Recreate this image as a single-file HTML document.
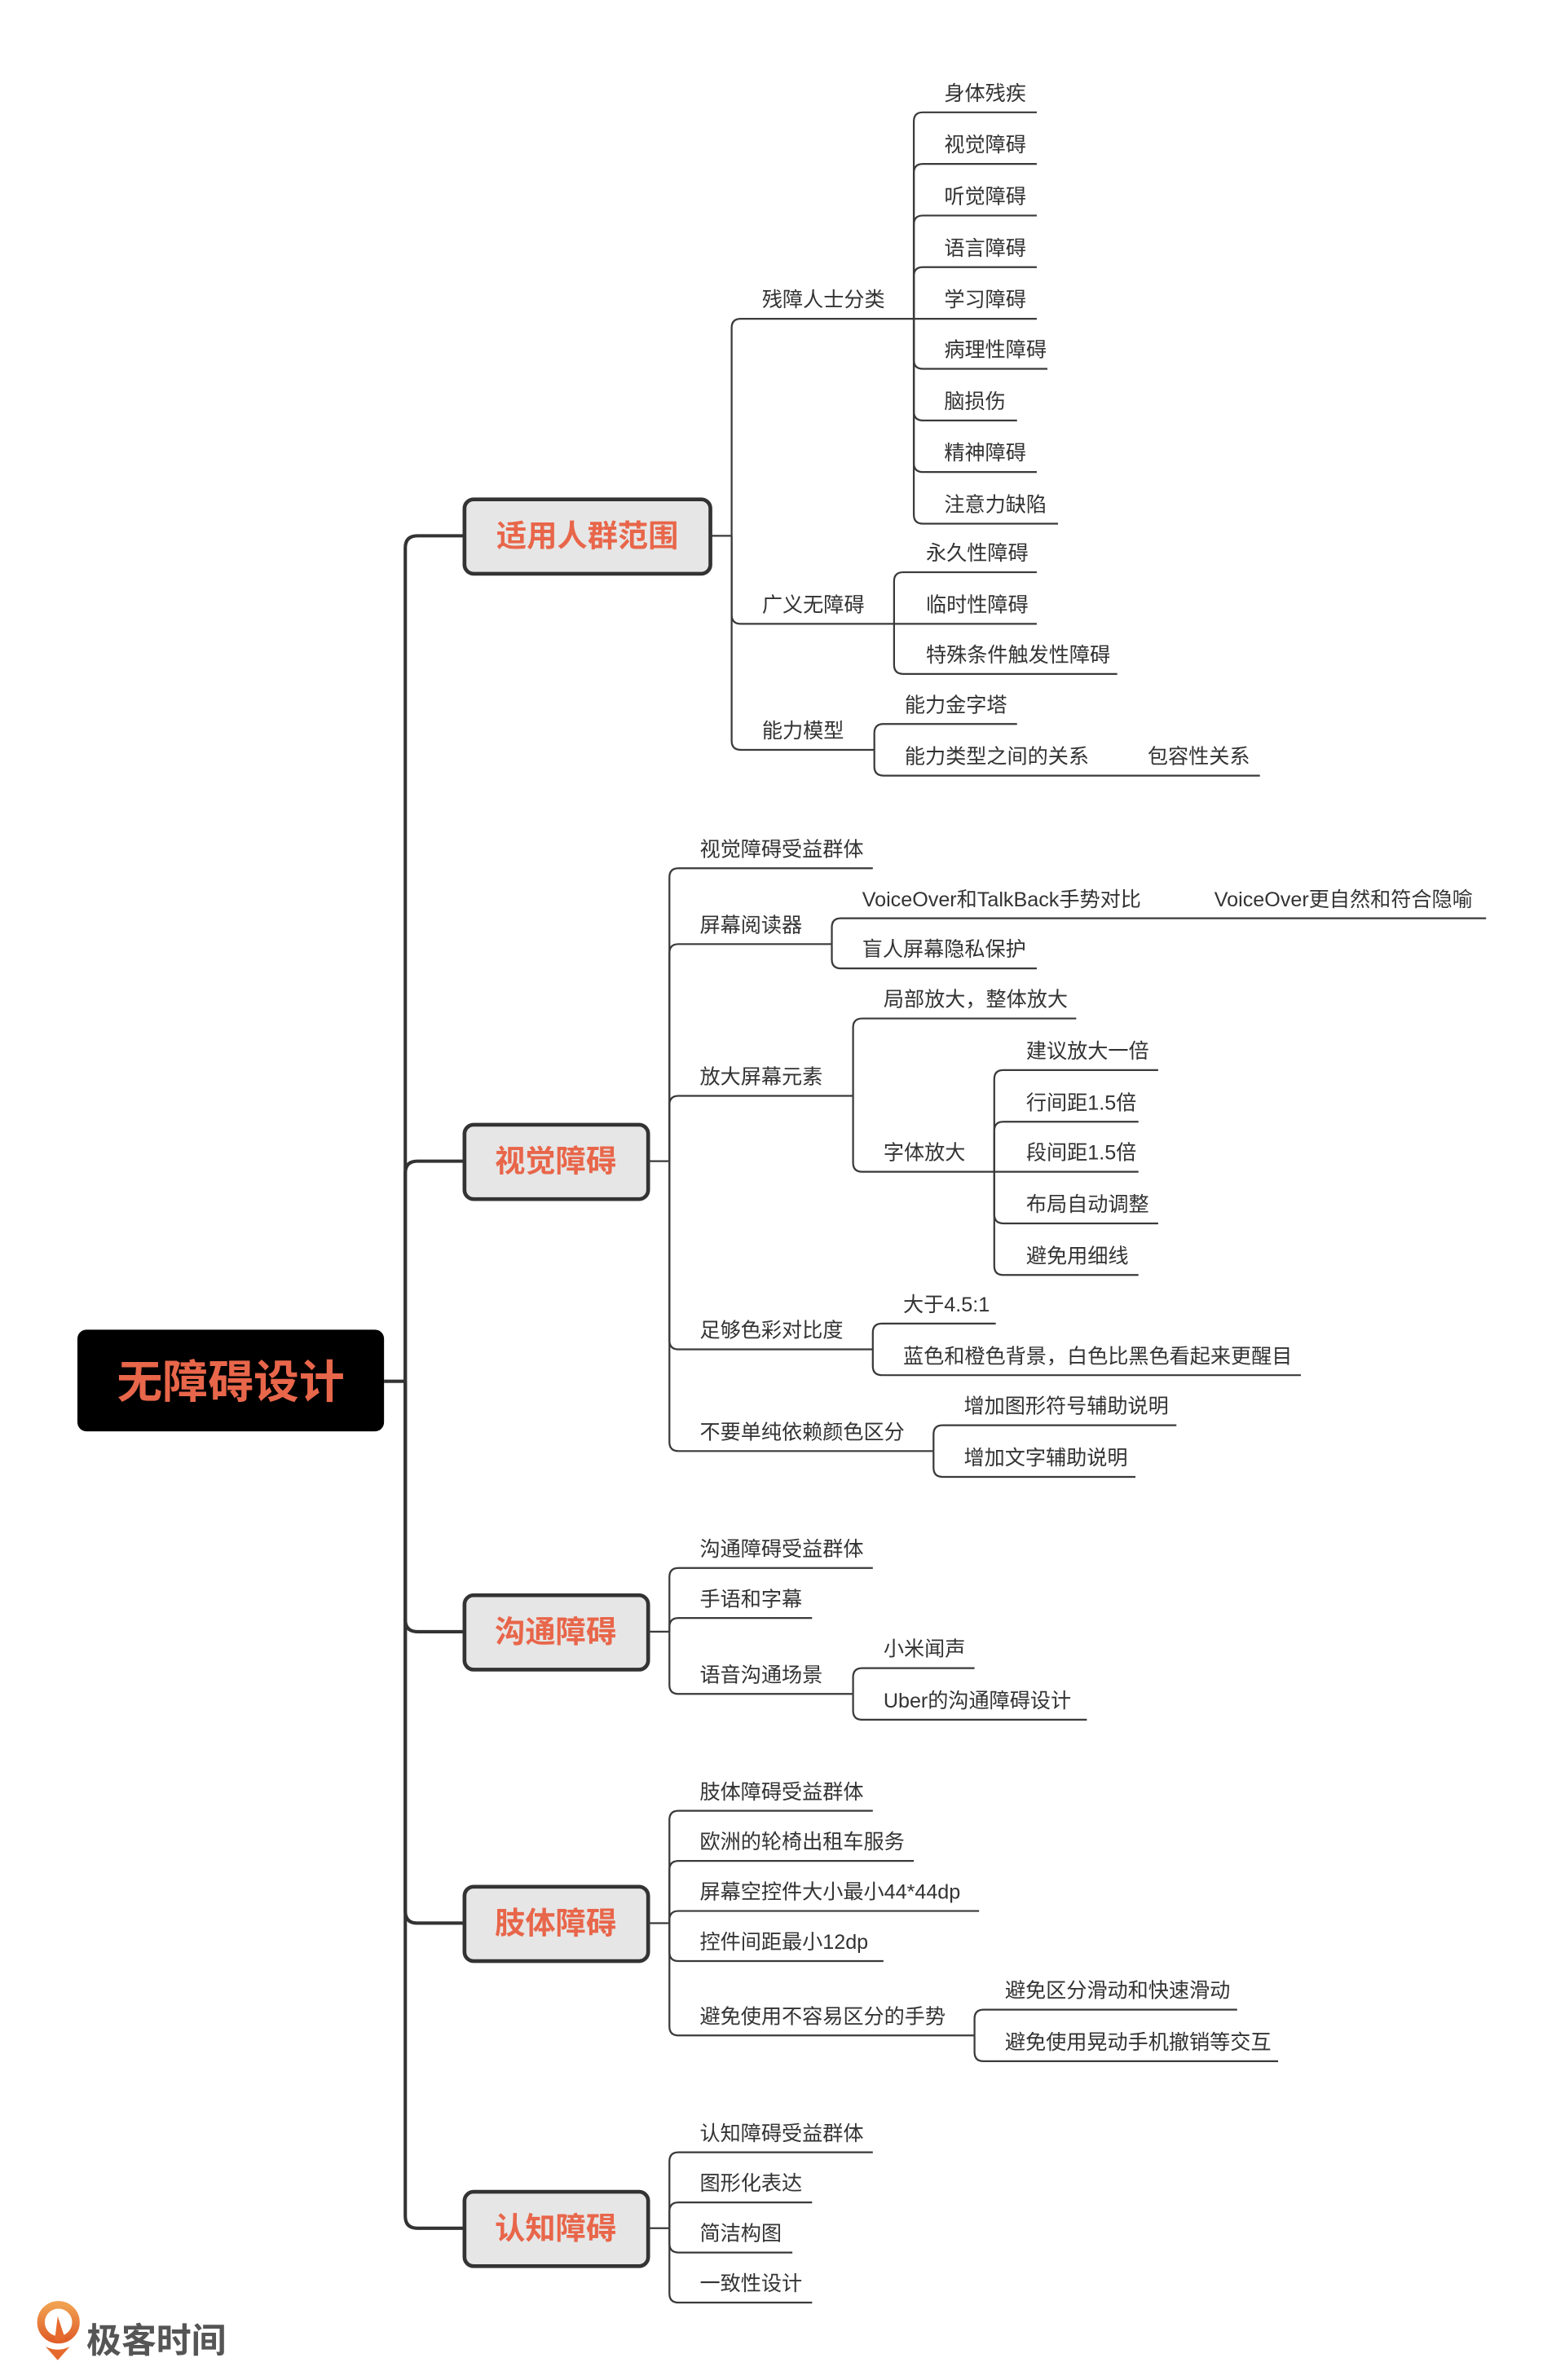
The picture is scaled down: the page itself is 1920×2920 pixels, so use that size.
<!DOCTYPE html>
<html><head><meta charset="utf-8"><style>
html,body{margin:0;padding:0;background:#fff;width:1920px;height:2920px;overflow:hidden}
svg{display:block}
text{font-family:"Liberation Sans","Noto Sans CJK SC",sans-serif}
.t{font-size:13.5px;fill:#333}
.b{font-size:20px;font-weight:bold;fill:#e8664a;font-family:"Noto Sans CJK SC","WenQuanYi Zen Hei",sans-serif}
.l{fill:none;stroke:#3a3a3a;stroke-width:1.2}
.m{fill:none;stroke:#333;stroke-width:2.2}
</style></head><body>
<svg width="1920" height="2920" viewBox="0 0 1031 1568" preserveAspectRatio="none" xmlns="http://www.w3.org/2000/svg">
<!-- trunk -->
<path class="m" d="M253 910 H267"/>
<path class="m" d="M267 910 V361 Q267 353 275 353 H305"/>
<path class="m" d="M267 910 V773 Q267 765 275 765 H305"/>
<path class="m" d="M267 910 V1067 Q267 1075 275 1075 H305"/>
<path class="m" d="M267 910 V1259 Q267 1267 275 1267 H305"/>
<path class="m" d="M267 910 V1460 Q267 1468 275 1468 H305"/>
<!-- root -->
<rect x="51" y="876" width="202" height="67" rx="6" fill="#000"/>
<text x="152" y="921" text-anchor="middle" class="b" style="font-size:30px">无障碍设计</text>
<!-- branch boxes -->
<rect x="306" y="329" width="162" height="49" rx="6" fill="#e6e6e6" stroke="#333" stroke-width="2.5"/>
<text x="387" y="360" text-anchor="middle" class="b">适用人群范围</text>
<rect x="306" y="741" width="121" height="49" rx="6" fill="#e6e6e6" stroke="#333" stroke-width="2.5"/>
<text x="366" y="772" text-anchor="middle" class="b">视觉障碍</text>
<rect x="306" y="1051" width="121" height="49" rx="6" fill="#e6e6e6" stroke="#333" stroke-width="2.5"/>
<text x="366" y="1082" text-anchor="middle" class="b">沟通障碍</text>
<rect x="306" y="1243" width="121" height="49" rx="6" fill="#e6e6e6" stroke="#333" stroke-width="2.5"/>
<text x="366" y="1274" text-anchor="middle" class="b">肢体障碍</text>
<rect x="306" y="1444" width="121" height="49" rx="6" fill="#e6e6e6" stroke="#333" stroke-width="2.5"/>
<text x="366" y="1475" text-anchor="middle" class="b">认知障碍</text>

<!-- Group A -->
<path class="l" d="M468 353 H482"/>
<path class="l" d="M482 353 V216 Q482 210 488 210 H602"/>
<path class="l" d="M482 353 V405 Q482 411 488 411 H589"/>
<path class="l" d="M482 353 V488 Q482 494 488 494 H576"/>
<text class="t" x="502" y="202">残障人士分类</text>
<text class="t" x="502" y="403">广义无障碍</text>
<text class="t" x="502" y="486">能力模型</text>
<path class="l" d="M602 210 V80 Q602 74 608 74 H683"/>
<path class="l" d="M602 210 V114 Q602 108 608 108 H683"/>
<path class="l" d="M602 210 V148 Q602 142 608 142 H683"/>
<path class="l" d="M602 210 V182 Q602 176 608 176 H683"/>
<path class="l" d="M602 210 H683"/>
<path class="l" d="M602 210 V237 Q602 243 608 243 H690"/>
<path class="l" d="M602 210 V271 Q602 277 608 277 H670"/>
<path class="l" d="M602 210 V305 Q602 311 608 311 H683"/>
<path class="l" d="M602 210 V339 Q602 345 608 345 H697"/>
<text class="t" x="622" y="66">身体残疾</text>
<text class="t" x="622" y="100">视觉障碍</text>
<text class="t" x="622" y="134">听觉障碍</text>
<text class="t" x="622" y="168">语言障碍</text>
<text class="t" x="622" y="202">学习障碍</text>
<text class="t" x="622" y="235">病理性障碍</text>
<text class="t" x="622" y="269">脑损伤</text>
<text class="t" x="622" y="303">精神障碍</text>
<text class="t" x="622" y="337">注意力缺陷</text>
<path class="l" d="M589 411 V383 Q589 377 595 377 H683"/>
<path class="l" d="M589 411 H683"/>
<path class="l" d="M589 411 V438 Q589 444 595 444 H736"/>
<text class="t" x="610" y="369">永久性障碍</text>
<text class="t" x="610" y="403">临时性障碍</text>
<text class="t" x="610" y="436">特殊条件触发性障碍</text>
<path class="l" d="M576 494 V483 Q576 477 582 477 H670"/>
<path class="l" d="M576 494 V505 Q576 511 582 511 H830"/>
<text class="t" x="596" y="469">能力金字塔</text>
<text class="t" x="596" y="503">能力类型之间的关系</text>
<text class="t" x="756" y="503">包容性关系</text>

<!-- Group B -->
<path class="l" d="M427 765 H441"/>
<path class="l" d="M441 765 V578 Q441 572 447 572 H575"/>
<path class="l" d="M441 765 V628 Q441 622 447 622 H548"/>
<path class="l" d="M441 765 V728 Q441 722 447 722 H562"/>
<path class="l" d="M441 765 V883 Q441 889 447 889 H575"/>
<path class="l" d="M441 765 V950 Q441 956 447 956 H615"/>
<text class="t" x="461" y="564">视觉障碍受益群体</text>
<text class="t" x="461" y="614">屏幕阅读器</text>
<text class="t" x="461" y="714">放大屏幕元素</text>
<text class="t" x="461" y="881">足够色彩对比度</text>
<text class="t" x="461" y="948">不要单纯依赖颜色区分</text>
<path class="l" d="M548 622 V611 Q548 605 554 605 H979"/>
<path class="l" d="M548 622 V632 Q548 638 554 638 H683"/>
<text class="t" x="568" y="597">VoiceOver和TalkBack手势对比</text>
<text class="t" x="800" y="597">VoiceOver更自然和符合隐喻</text>
<text class="t" x="568" y="630">盲人屏幕隐私保护</text>
<path class="l" d="M562 722 V677 Q562 671 568 671 H709"/>
<path class="l" d="M562 722 V766 Q562 772 568 772 H655"/>
<text class="t" x="582" y="663">局部放大，整体放大</text>
<text class="t" x="582" y="764">字体放大</text>
<path class="l" d="M655 772 V711 Q655 705 661 705 H763"/>
<path class="l" d="M655 772 V745 Q655 739 661 739 H750"/>
<path class="l" d="M655 772 H750"/>
<path class="l" d="M655 772 V800 Q655 806 661 806 H763"/>
<path class="l" d="M655 772 V834 Q655 840 661 840 H750"/>
<text class="t" x="676" y="697">建议放大一倍</text>
<text class="t" x="676" y="731">行间距1.5倍</text>
<text class="t" x="676" y="764">段间距1.5倍</text>
<text class="t" x="676" y="798">布局自动调整</text>
<text class="t" x="676" y="832">避免用细线</text>
<path class="l" d="M575 889 V878 Q575 872 581 872 H656"/>
<path class="l" d="M575 889 V900 Q575 906 581 906 H857"/>
<text class="t" x="595" y="864">大于4.5:1</text>
<text class="t" x="595" y="898">蓝色和橙色背景，白色比黑色看起来更醒目</text>
<path class="l" d="M615 956 V945 Q615 939 621 939 H775"/>
<path class="l" d="M615 956 V967 Q615 973 621 973 H748"/>
<text class="t" x="635" y="931">增加图形符号辅助说明</text>
<text class="t" x="635" y="965">增加文字辅助说明</text>

<!-- Group C -->
<path class="l" d="M427 1075 H441"/>
<path class="l" d="M441 1075 V1039 Q441 1033 447 1033 H575"/>
<path class="l" d="M441 1075 V1072 Q441 1066 447 1066 H535"/>
<path class="l" d="M441 1075 V1110 Q441 1116 447 1116 H562"/>
<text class="t" x="461" y="1025">沟通障碍受益群体</text>
<text class="t" x="461" y="1058">手语和字幕</text>
<text class="t" x="461" y="1108">语音沟通场景</text>
<path class="l" d="M562 1116 V1105 Q562 1099 568 1099 H642"/>
<path class="l" d="M562 1116 V1127 Q562 1133 568 1133 H716"/>
<text class="t" x="582" y="1091">小米闻声</text>
<text class="t" x="582" y="1125">Uber的沟通障碍设计</text>

<!-- Group D -->
<path class="l" d="M427 1267 H441"/>
<path class="l" d="M441 1267 V1199 Q441 1193 447 1193 H575"/>
<path class="l" d="M441 1267 V1232 Q441 1226 447 1226 H602"/>
<path class="l" d="M441 1267 V1265 Q441 1259 447 1259 H645"/>
<path class="l" d="M441 1267 V1286 Q441 1292 447 1292 H582"/>
<path class="l" d="M441 1267 V1335 Q441 1341 447 1341 H642"/>
<text class="t" x="461" y="1185">肢体障碍受益群体</text>
<text class="t" x="461" y="1218">欧洲的轮椅出租车服务</text>
<text class="t" x="461" y="1251">屏幕空控件大小最小44*44dp</text>
<text class="t" x="461" y="1284">控件间距最小12dp</text>
<text class="t" x="461" y="1333">避免使用不容易区分的手势</text>
<path class="l" d="M642 1341 V1330 Q642 1324 648 1324 H815"/>
<path class="l" d="M642 1341 V1352 Q642 1358 648 1358 H842"/>
<text class="t" x="662" y="1316">避免区分滑动和快速滑动</text>
<text class="t" x="662" y="1350">避免使用晃动手机撤销等交互</text>

<!-- Group E -->
<path class="l" d="M427 1468 H441"/>
<path class="l" d="M441 1468 V1424 Q441 1418 447 1418 H575"/>
<path class="l" d="M441 1468 V1457 Q441 1451 447 1451 H535"/>
<path class="l" d="M441 1468 V1478 Q441 1484 447 1484 H522"/>
<path class="l" d="M441 1468 V1511 Q441 1517 447 1517 H535"/>
<text class="t" x="461" y="1410">认知障碍受益群体</text>
<text class="t" x="461" y="1443">图形化表达</text>
<text class="t" x="461" y="1476">简洁构图</text>
<text class="t" x="461" y="1509">一致性设计</text>

<!-- logo -->
<defs><linearGradient id="g" x1="0" y1="0" x2="0" y2="1"><stop offset="0" stop-color="#f0a050"/><stop offset="1" stop-color="#e0602a"/></linearGradient></defs>
<circle cx="38.5" cy="1530" r="11.5" fill="none" stroke="url(#g)" stroke-width="5"/>
<path d="M36 1542 L38 1526 L43 1541 Z" fill="#e66a2e"/>
<path d="M30 1546 Q38 1550 46 1546 L38 1555 Z" fill="#e66a2e"/>
<text x="57" y="1550" style="font-size:23px;font-weight:bold;fill:#555;font-family:'Noto Sans CJK SC',sans-serif">极客时间</text>
</svg>
</body></html>
